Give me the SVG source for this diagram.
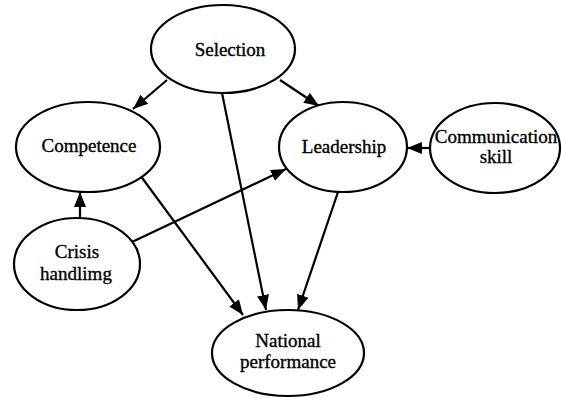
<svg xmlns="http://www.w3.org/2000/svg" width="561" height="398" viewBox="0 0 561 398">
<style>
.n ellipse{fill:#fff;stroke:#000;stroke-width:2.2}
.n text{font-family:"Liberation Serif","Times New Roman",serif;font-size:19px;text-anchor:middle;fill:#000;stroke:#000;stroke-width:0.35}
.e line{stroke:#000;stroke-width:2.2;marker-end:url(#ah)}
</style>
<defs>
<marker id="ah" markerUnits="userSpaceOnUse" markerWidth="16" markerHeight="14" refX="15" refY="6" orient="auto" viewBox="0 0 16 12">
<path d="M0,0 L15,6 L0,12 z" fill="#000"/>
</marker>
</defs>
<rect width="561" height="398" fill="#fff"/>
<g class="e" id="connectors">
<line x1="167" y1="80" x2="133" y2="109"/>
<line x1="280" y1="80" x2="319" y2="106"/>
<line x1="222" y1="93" x2="266" y2="310"/>
<line x1="140" y1="175" x2="243" y2="315"/>
<line x1="338" y1="192" x2="298" y2="310"/>
<line x1="430" y1="148" x2="407" y2="148"/>
<line x1="80" y1="218" x2="80" y2="192"/>
<line x1="132" y1="242" x2="286" y2="169"/>
</g>
<g class="n" id="selection"><ellipse cx="223" cy="49" rx="72" ry="44"/><text x="230" y="56">Selection</text></g>
<g class="n" id="competence"><ellipse cx="88" cy="147" rx="72" ry="45"/><text x="89" y="152">Competence</text></g>
<g class="n" id="leadership"><ellipse cx="343" cy="147" rx="64" ry="45"/><text x="344" y="153">Leadership</text></g>
<g class="n" id="communication"><ellipse cx="495" cy="148" rx="65" ry="45"/><text x="496" y="143">Communication</text><text x="496" y="163">skill</text></g>
<g class="n" id="crisis"><ellipse cx="77" cy="264" rx="63" ry="46"/><text x="77" y="258">Crisis</text><text x="76" y="280">handlimg</text></g>
<g class="n" id="national"><ellipse cx="288" cy="353" rx="76" ry="43"/><text x="288" y="347">National</text><text x="288" y="368">performance</text></g>
</svg>
